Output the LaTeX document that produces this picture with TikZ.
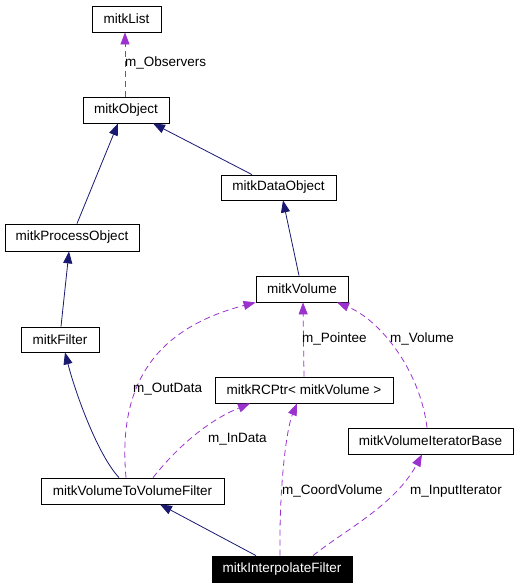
\documentclass[tikz,border=0pt]{standalone}
\usepackage{fontspec}
\setmainfont{Liberation Sans}
\usetikzlibrary{arrows.meta}
\definecolor{inhcol}{HTML}{191970}
\definecolor{usecol}{HTML}{9A32CD}

\begin{document}
\begin{tikzpicture}[x=1pt,y=-1pt,
  cls/.style={draw,line width=0.8pt,inner sep=0,minimum height=26,font=\fontsize{13.5}{15}\selectfont},
  inh/.style={draw=inhcol,line width=0.8pt,-{Triangle[length=12pt,width=9pt]},inhcol},
  use/.style={draw=usecol,line width=0.8pt,dash pattern=on 6pt off 4pt,-{Triangle[length=12pt,width=9pt]},usecol},
  lbl/.style={anchor=west,inner sep=0,font=\fontsize{13.5}{15}\selectfont}]
\useasboundingbox (0,0) rectangle (528,587);
\node[cls,minimum width=69] (list) at (126.5,19) {mitkList};
\node[cls,minimum width=86] (object) at (126,110) {mitkObject};
\node[cls,minimum width=115,minimum height=25] (dataobj) at (278.5,187.5) {mitkDataObject};
\node[cls,minimum width=134,minimum height=27] (procobj) at (72,237.5) {mitkProcessObject};
\node[cls,minimum width=92] (volume) at (302,289) {mitkVolume};
\node[cls,minimum width=178] (rcptr) at (304,390) {mitkRCPtr< mitkVolume >};
\node[cls,minimum width=78,minimum height=25] (filter) at (60,339.5) {mitkFilter};
\node[cls,minimum width=165] (vib) at (430.5,441) {mitkVolumeIteratorBase};
\node[cls,minimum width=183] (vtov) at (132.5,491) {mitkVolumeToVolumeFilter};
\node[cls,minimum width=140,fill=black,text=white] (interp) at (282,569) {mitkInterpolateFilter};
% inheritance
\draw[inh] ([xshift=5]procobj.north) -- ([xshift=-8]object.south);
\draw[inh] ([xshift=-26.5]dataobj.north) -- ([xshift=27]object.south);
\draw[inh] ([xshift=-3]volume.north) -- ([xshift=4.5]dataobj.south);
\draw[inh] ([xshift=1]filter.north) -- ([xshift=-3]procobj.south);
\draw[inh] ([xshift=-13.5]vtov.north) .. controls (98,455) and (76,395) .. ([xshift=5]filter.south);
\draw[inh] ([xshift=-26]interp.north) -- ([xshift=27.5]vtov.south);
% members
\draw[use] ([xshift=-1]object.north) -- ([xshift=-1.5]list.south);
\node[lbl] (lobs) at (125,63) {m\_Observers};
\draw[use] ([xshift=-6.5]vtov.north) .. controls (118,390) and (150,330) .. (volume.south west);
\node[lbl] (lout) at (133,389) {m\_OutData};
\draw[use] ([xshift=20.5]vtov.north) .. controls (175,450) and (205,422) .. ([xshift=-54]rcptr.south);
\node[lbl] (lin) at (208,439) {m\_InData};
\draw[use] (rcptr.north) -- ([xshift=1]volume.south);
\node[lbl] (lptr) at (302,339) {m\_Pointee};
\draw[use] ([xshift=-3.5]vib.north) .. controls (420,370) and (380,320) .. ([xshift=35]volume.south);
\node[lbl] (lvol) at (390,339) {m\_Volume};
\draw[use] ([xshift=-2]interp.north) .. controls (279,490) and (286,430) .. ([xshift=-7]rcptr.south);
\node[lbl] (lcoord) at (282,491) {m\_CoordVolume};
\draw[use] ([xshift=31]interp.north) .. controls (345,530) and (395,505) .. ([xshift=-8.5]vib.south);
\node[lbl] (lit) at (410,491) {m\_InputIterator};
\end{tikzpicture}
\end{document}
